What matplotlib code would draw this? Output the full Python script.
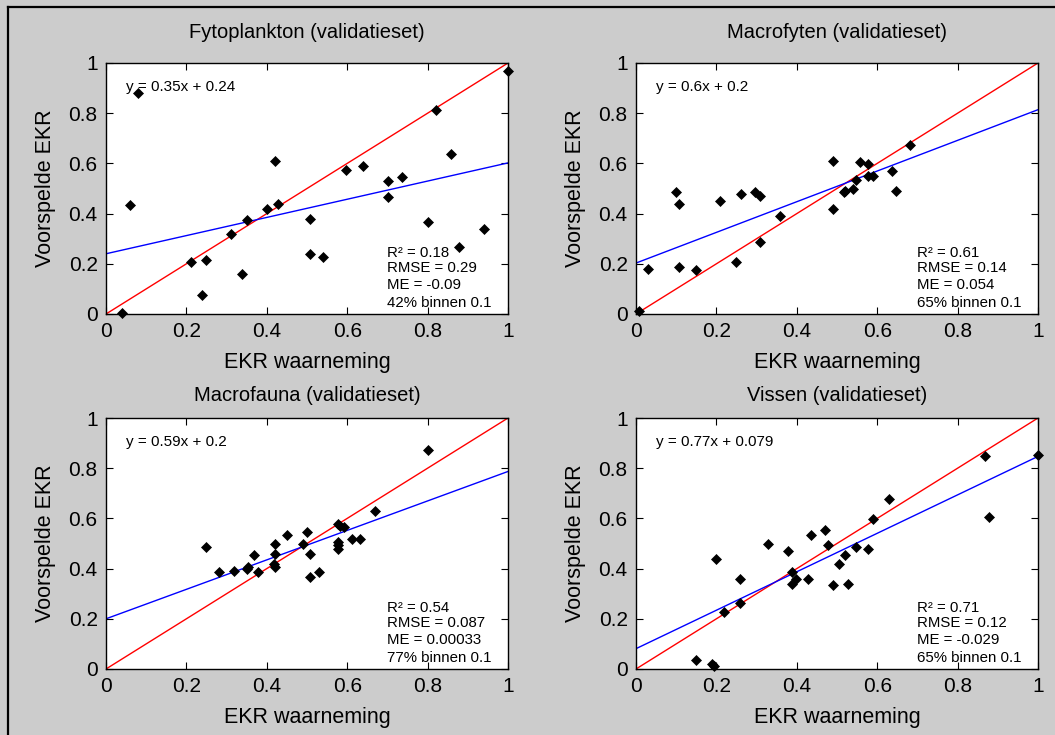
import numpy as np
import matplotlib.pyplot as plt
from matplotlib.lines import Line2D

plt.rcParams["font.family"] = ["Liberation Sans", "DejaVu Sans"]

BG = "#cccccc"
W, H = 1055, 735

TITLES = ["Fytoplankton (validatieset)", "Macrofyten (validatieset)",
          "Macrofauna (validatieset)", "Vissen (validatieset)"]

# waarneming (x) / voorspelling (y)
fyto_x = [0.039, 0.079, 0.059, 0.211, 0.249, 0.240, 0.310, 0.339, 0.350, 0.401, 0.428, 0.421, 0.507,
          0.507, 0.541, 0.597, 0.640, 0.701, 0.701, 0.737, 0.800, 0.821, 0.857, 0.877, 0.940, 1.000]
fyto_y = [0.004, 0.880, 0.433, 0.207, 0.214, 0.077, 0.319, 0.161, 0.373, 0.418, 0.440, 0.610, 0.378,
          0.240, 0.227, 0.572, 0.591, 0.531, 0.465, 0.544, 0.367, 0.814, 0.637, 0.267, 0.340, 0.967]

macrofyt_x = [0.008, 0.031, 0.099, 0.108, 0.108, 0.149, 0.210, 0.248, 0.260, 0.296, 0.309, 0.309, 0.359,
              0.490, 0.490, 0.517, 0.521, 0.539, 0.548, 0.558, 0.576, 0.576, 0.590, 0.638, 0.646, 0.681]
macrofyt_y = [0.011, 0.181, 0.485, 0.438, 0.187, 0.174, 0.452, 0.207, 0.478, 0.485, 0.471, 0.286, 0.392,
              0.610, 0.418, 0.485, 0.491, 0.498, 0.535, 0.604, 0.598, 0.551, 0.551, 0.571, 0.491, 0.675]

macrofauna_x = [0.249, 0.282, 0.318, 0.350, 0.354, 0.367, 0.379, 0.421, 0.421, 0.419, 0.421, 0.450, 0.490, 0.499,
                0.507, 0.507, 0.529, 0.576, 0.582, 0.591, 0.576, 0.576, 0.576, 0.611, 0.631, 0.668, 0.800]
macrofauna_y = [0.485, 0.385, 0.392, 0.400, 0.406, 0.453, 0.385, 0.498, 0.458, 0.418, 0.405, 0.533, 0.498, 0.544,
                0.459, 0.367, 0.386, 0.579, 0.571, 0.566, 0.505, 0.495, 0.478, 0.518, 0.518, 0.631, 0.874]

vissen_x = [0.149, 0.188, 0.193, 0.199, 0.218, 0.259, 0.259, 0.329, 0.379, 0.387, 0.387, 0.399, 0.428, 0.436,
            0.470, 0.478, 0.489, 0.505, 0.519, 0.527, 0.548, 0.576, 0.590, 0.630, 0.869, 0.877, 1.000]
vissen_y = [0.037, 0.020, 0.012, 0.438, 0.228, 0.360, 0.262, 0.498, 0.471, 0.385, 0.340, 0.360, 0.360, 0.533,
            0.552, 0.493, 0.333, 0.420, 0.453, 0.340, 0.486, 0.478, 0.598, 0.677, 0.847, 0.604, 0.854]

# regressielijn (blauw) zoals getekend, en de teksten
fit_slope = [0.362, 0.611, 0.587, 0.766]
fit_icept = [0.240, 0.203, 0.200, 0.081]
eq_labels = ["y = 0.35x + 0.24", "y = 0.6x + 0.2", "y = 0.59x + 0.2", "y = 0.77x + 0.079"]
r2 = ["0.18", "0.61", "0.54", "0.71"]
rmse = ["0.29", "0.14", "0.087", "0.12"]
me = ["-0.09", "0.054", "0.00033", "-0.029"]
binnen = ["42%", "65%", "77%", "65%"]

XS = [fyto_x, macrofyt_x, macrofauna_x, vissen_x]
YS = [fyto_y, macrofyt_y, macrofauna_y, vissen_y]
TICKS = [0, 0.2, 0.4, 0.6, 0.8, 1]
TICKLAB = ["0", "0.2", "0.4", "0.6", "0.8", "1"]

# assen in pixels: (links, boven, rechts, onder)
BOX = [(106, 63, 508, 314), (636, 63, 1038, 314), (106, 418, 508, 669), (636, 418, 1038, 669)]
PAD = [18, 18, 12.5, 12.5]

fig = plt.figure(figsize=(W / 100, H / 100), dpi=100, facecolor=BG)
for i in range(4):
    l, t, r, b = BOX[i]
    ax = fig.add_axes([l / W, 1 - b / H, (r - l) / W, (b - t) / H])
    ax.set_xlim(0, 1); ax.set_ylim(0, 1)
    line = np.array([0, 1])
    ax.plot(line, line, color="red", lw=1.0, zorder=2)
    ax.plot(line, fit_slope[i] * line + fit_icept[i], color="blue", lw=1.0, zorder=2)
    ax.plot(XS[i], YS[i], ls="none", marker="D", ms=4.8, color="black", mec="black",
            mew=0.5, zorder=3, clip_on=False)
    ax.set_xticks(TICKS, TICKLAB); ax.set_yticks(TICKS, TICKLAB)
    ax.tick_params(direction="in", length=5, width=0.8, top=True, right=True,
                   labelsize=15, pad=6)
    for s in ax.spines.values():
        s.set_linewidth(1.0)
    ax.set_title(TITLES[i], fontsize=14.5, pad=PAD[i])
    ax.set_xlabel("EKR waarneming", fontsize=15.5, labelpad=8)
    ax.set_ylabel("Voorspelde EKR", fontsize=15.5, labelpad=9)
    ax.text(0.05, 0.903, eq_labels[i], fontsize=11, va="center", ha="left", zorder=4)
    for txt, yy in zip([f"R² = {r2[i]}", f"RMSE = {rmse[i]}", f"ME = {me[i]}",
                        f"{binnen[i]} binnen 0.1"], [0.243, 0.183, 0.114, 0.044]):
        ax.text(0.699, yy, txt, fontsize=10.8, va="center", ha="left", zorder=4)

# zwarte rand links en boven
fig.add_artist(Line2D([8 / W, 1], [1 - 7 / H, 1 - 7 / H], color="black", lw=1.6))
fig.add_artist(Line2D([8 / W, 8 / W], [0, 1 - 7 / H], color="black", lw=1.6))

fig.savefig("out.png", dpi=100, facecolor=BG)
